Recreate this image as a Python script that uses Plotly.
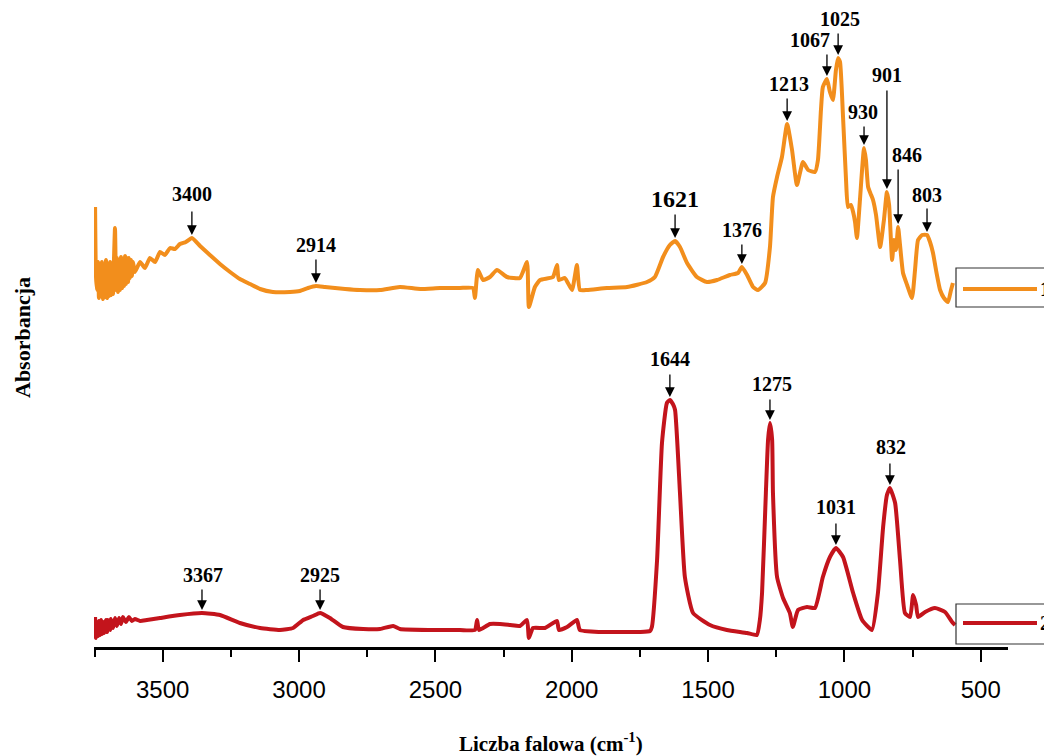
import numpy as np
import plotly.graph_objects as go

# ---------------- data ----------------
wn_1 = [3748, 3745, 3741, 3737, 3734, 3730, 3726, 3723, 3719, 3715, 3712, 3708, 3704, 3701, 3697, 3693,
        3690, 3686, 3682, 3679, 3675, 3671, 3668, 3664, 3660, 3657, 3653, 3649, 3646, 3642, 3638, 3635,
        3631, 3627, 3624, 3620, 3616, 3613, 3609, 3602,
        3583, 3565, 3547, 3528,
        3510, 3492, 3473, 3455, 3437, 3415, 3393, 3363, 3327, 3290, 3253, 3217, 3180, 3143, 3096, 3033,
        2997, 2967, 2938, 2905, 2868, 2831, 2777, 2703, 2630, 2555, 2483, 2410, 2362, 2355, 2344, 2325,
        2300, 2274, 2237, 2190, 2164, 2157, 2135, 2116, 2069, 2054, 2047, 2025, 1999, 1981, 1970, 1944,
        1871, 1797, 1724, 1695, 1665, 1640, 1621, 1603, 1577, 1541, 1504, 1467, 1420, 1390, 1376, 1357,
        1335, 1317, 1291, 1273, 1262, 1247, 1229, 1210, 1192, 1174, 1152, 1133, 1108, 1097, 1086, 1079,
        1064, 1053, 1042, 1031, 1023, 1016, 1005, 994, 987, 976, 968, 961, 954, 943, 928, 921,
        913, 902, 895, 884, 869, 855, 844, 836, 825, 818, 811, 803, 796, 785, 770, 752,
        741, 730, 715, 697, 686, 675, 664, 649, 635, 620, 609, 602]
abs_1 = [4.40, 3.72, 3.57, 3.85, 3.49, 3.82, 3.51, 3.85, 3.48, 3.81, 3.50, 3.87, 3.49, 3.83, 3.51, 3.85,
         3.52, 3.82, 3.53, 3.85, 4.19, 3.57, 3.89, 3.55, 3.87, 3.57, 3.90, 3.59, 3.87, 3.61, 3.91, 3.63,
         3.89, 3.65, 3.89, 3.69, 3.87, 3.71, 3.85, 3.75,
         3.85, 3.79, 3.89, 3.85,
         3.95, 3.92, 3.99, 3.98, 4.03, 4.05, 4.09, 4.01, 3.92, 3.83, 3.75, 3.68, 3.63, 3.58, 3.55, 3.55,
         3.56, 3.59, 3.61, 3.60, 3.59, 3.58, 3.57, 3.57, 3.60, 3.58, 3.59, 3.59, 3.59, 3.49, 3.77, 3.67,
         3.70, 3.77, 3.70, 3.69, 3.85, 3.40, 3.60, 3.67, 3.70, 3.82, 3.67, 3.69, 3.57, 3.82, 3.57, 3.57,
         3.59, 3.60, 3.65, 3.70, 3.90, 4.02, 4.06, 4.00, 3.84, 3.70, 3.65, 3.67, 3.72, 3.74, 3.80, 3.72,
         3.60, 3.57, 3.64, 4.00, 4.50, 4.70, 4.90, 5.23, 4.97, 4.62, 4.85, 4.77, 4.75, 4.87, 5.37, 5.60,
         5.68, 5.55, 5.47, 5.77, 5.89, 5.85, 5.30, 4.67, 4.40, 4.42, 4.35, 4.25, 4.09, 4.47, 4.99, 4.87,
         4.60, 4.52, 4.47, 4.32, 4.00, 4.27, 4.55, 4.42, 3.87, 4.07, 3.97, 4.20, 4.02, 3.74, 3.62, 3.49,
         3.77, 4.07, 4.12, 4.12, 4.05, 3.94, 3.77, 3.57, 3.49, 3.45, 3.57, 3.64]

wn_2 = [3748, 3745, 3741, 3737, 3734, 3730, 3726, 3723, 3719, 3715, 3708, 3704, 3701, 3693, 3690, 3682,
        3675, 3668, 3660, 3653, 3646, 3635, 3624, 3613, 3602,
        3583, 3558, 3510, 3437, 3356, 3290, 3217, 3143, 3070, 3022, 2985, 2949, 2923, 2887, 2839,
        2765, 2703, 2655, 2630, 2520, 2410, 2355, 2347, 2340, 2300, 2263, 2226, 2190, 2164, 2157, 2142,
        2098, 2054, 2047, 2017, 1981, 1970, 1896, 1823, 1750, 1713, 1706, 1687, 1669, 1651, 1640, 1629,
        1621, 1603, 1585, 1555, 1493, 1431, 1357, 1321, 1310, 1302, 1288, 1280, 1273, 1265, 1262, 1247,
        1225, 1200, 1189, 1170, 1137, 1108, 1079, 1053, 1031, 1005, 968, 935, 899, 877, 858, 844,
        833, 814, 796, 778, 759, 748, 737, 730, 704, 668, 631, 605, 594]
abs_2 = [0.30, 0.09, 0.25, 0.11, 0.26, 0.12, 0.27, 0.13, 0.25, 0.14, 0.27, 0.15, 0.27, 0.17, 0.28, 0.19,
         0.29, 0.21, 0.29, 0.23, 0.30, 0.25, 0.30, 0.26, 0.28,
         0.26, 0.27, 0.29, 0.32, 0.34, 0.32, 0.24, 0.19, 0.17, 0.19, 0.27, 0.31, 0.34, 0.29, 0.20,
         0.18, 0.18, 0.21, 0.18, 0.17, 0.17, 0.17, 0.27, 0.17, 0.23, 0.23, 0.22, 0.21, 0.27, 0.09, 0.19,
         0.19, 0.26, 0.17, 0.20, 0.27, 0.17, 0.15, 0.15, 0.15, 0.16, 0.20, 0.87, 2.04, 2.44, 2.47, 2.43,
         2.37, 1.54, 0.70, 0.34, 0.22, 0.17, 0.14, 0.12, 0.27, 0.54, 1.54, 2.07, 2.24, 2.07, 1.54, 0.70,
         0.49, 0.34, 0.20, 0.37, 0.40, 0.39, 0.70, 0.90, 0.99, 0.90, 0.54, 0.27, 0.17, 0.54, 1.20, 1.52,
         1.59, 1.44, 0.87, 0.34, 0.30, 0.52, 0.42, 0.30, 0.35, 0.39, 0.35, 0.25, 0.22]

# peak labels: text, position of the marked peak (cm-1)
peak_labels_1 = ["3400", "2914", "1621", "1376", "1213", "1067", "1025", "930", "901", "846", "803"]
peak_pos_1 = [3393, 2938, 1621, 1376, 1210, 1064, 1023, 928, 844, 803, 697]
peak_labels_2 = ["3367", "2925", "1644", "1275", "1031", "832"]
peak_pos_2 = [3356, 2923, 1640, 1273, 1031, 833]

x_ticks = [3500, 3000, 2500, 2000, 1500, 1000, 500]
series_names = ["1", "2"]

# ---------------- style ----------------
ORANGE = "#F28E1C"
RED = "#C3141C"
SERIF = "Liberation Serif, Times New Roman, serif"
SANS = "Liberation Sans, Arial, sans-serif"

W, H = 1044, 756
ML, MR, MT, MB = 94, 36, 10, 109
PW, PH = W - ML - MR, H - MT - MB


def px_to_paper(px, py):
    return (px - ML) / PW, (H - MB - py) / PH


fig = go.Figure()
fig.add_trace(go.Scatter(x=wn_1, y=abs_1, mode="lines", name=series_names[0],
                         line=dict(color=ORANGE, width=4, shape="spline", smoothing=0.45),
                         showlegend=False, hoverinfo="skip"))
fig.add_trace(go.Scatter(x=wn_2, y=abs_2, mode="lines", name=series_names[1],
                         line=dict(color=RED, width=4, shape="spline", smoothing=0.45),
                         showlegend=False, hoverinfo="skip"))

# (arrow length px, text x shift px, text y shift above tip px, font size)
style_1 = [(28, 0, 41, 20), (28, 0, 38, 20), (28, 0, 39, 24), (24, 0, 34, 20), (27, 2, 37, 20),
           (26, -17, 36, 20), (26, 2, 36, 20), (23, -1, 33, 20), (103, 0, 114, 20), (59, 9, 69, 20),
           (28, 0, 37, 20)]
style_2 = [(25, 1, 35, 20), (25, 0, 35, 20), (27, 0, 38, 20), (25, 2, 36, 20), (26, 0, 38, 20),
           (26, 1, 38, 20)]

annotations = []
for labels, pos, styles, wn, ab in [(peak_labels_1, peak_pos_1, style_1, wn_1, abs_1),
                                    (peak_labels_2, peak_pos_2, style_2, wn_2, abs_2)]:
    wn_arr = np.array(wn[::-1], dtype=float)
    ab_arr = np.array(ab[::-1], dtype=float)
    for lab, p, (alen, dx, dy, fs) in zip(labels, pos, styles):
        yv = float(np.interp(p, wn_arr, ab_arr))
        annotations.append(dict(x=p, y=yv, xref="x", yref="y", text="", showarrow=True,
                                ax=0, ay=-alen, arrowhead=2, arrowsize=1.5, arrowwidth=1.3,
                                arrowcolor="black", standoff=3))
        annotations.append(dict(x=p, y=yv, xref="x", yref="y", text="<b>%s</b>" % lab,
                                showarrow=False, xshift=dx, yshift=dy + 3,
                                font=dict(family=SERIF, size=fs, color="black"),
                                xanchor="center", yanchor="middle"))

# axis titles
xt, yt = px_to_paper(551, 742)
annotations.append(dict(x=xt, y=yt, xref="paper", yref="paper", showarrow=False,
                        text="<b>Liczba falowa (cm<sup>-1</sup>)</b>",
                        font=dict(family=SERIF, size=21, color="black"), xanchor="center",
                        yanchor="middle"))
xt, yt = px_to_paper(22, 338)
annotations.append(dict(x=xt, y=yt, xref="paper", yref="paper", showarrow=False,
                        text="<b>Absorbancja</b>", textangle=-90,
                        font=dict(family=SERIF, size=22, color="black"), xanchor="center",
                        yanchor="middle"))

# legend boxes (Origin-style, one per curve)
shapes = []
for (by0, by1, ly), col, name in [((268, 307, 289), ORANGE, series_names[0]),
                                  ((604, 644, 623), RED, series_names[1])]:
    x0, y0 = px_to_paper(956, by1)
    x1, y1 = px_to_paper(1080, by0)
    shapes.append(dict(type="rect", xref="paper", yref="paper", x0=x0, x1=x1, y0=y0, y1=y1,
                       line=dict(color="#333333", width=1.2), fillcolor="rgba(0,0,0,0)"))
    lx0, lyp = px_to_paper(963, ly)
    lx1, _ = px_to_paper(1037, ly)
    shapes.append(dict(type="line", xref="paper", yref="paper", x0=lx0, x1=lx1, y0=lyp, y1=lyp,
                       line=dict(color=col, width=4)))
    tx, _ = px_to_paper(1038, ly)
    annotations.append(dict(x=tx, y=lyp, xref="paper", yref="paper", showarrow=False,
                            text="<b>%s</b>" % name, xanchor="left", yanchor="middle",
                            font=dict(family=SERIF, size=20, color="black")))

fig.update_layout(
    width=W, height=H,
    margin=dict(l=ML, r=MR, t=MT, b=MB, pad=0),
    paper_bgcolor="white", plot_bgcolor="white",
    showlegend=False,
    annotations=annotations,
    shapes=shapes,
    xaxis=dict(range=[3752, 400], tickvals=x_ticks, ticks="outside", ticklen=12, tickwidth=2,
               tickcolor="black", showline=True, linecolor="black", linewidth=2.5,
               showgrid=False, zeroline=False, ticklabelstandoff=7,
               tickfont=dict(family=SANS, size=24, color="black"),
               minor=dict(dtick=250, tick0=0, ticks="outside", ticklen=7, tickwidth=2,
                          tickcolor="black", showgrid=False)),
    yaxis=dict(range=[0, 6.37], showline=False, showticklabels=False, ticks="",
               showgrid=False, zeroline=False),
)

fig.write_html("out.html", config={"displayModeBar": False},
               post_script="document.body.style.margin='0';document.body.style.overflow='hidden';")
